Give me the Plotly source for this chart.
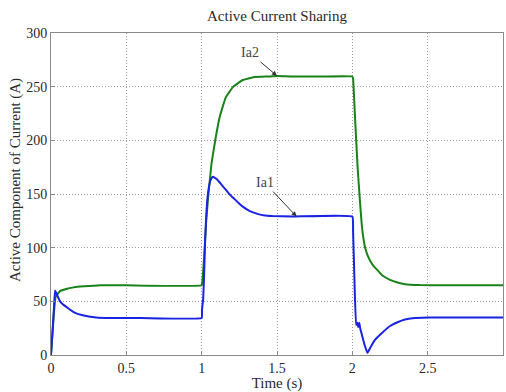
import plotly.graph_objects as go

# Ia2 (green) current, A
t_ia2 = [0, 0.01, 0.02, 0.03, 0.045, 0.06, 0.1, 0.15, 0.22, 0.33, 0.5, 1.0,
         1.005, 1.01, 1.02, 1.03, 1.045, 1.065, 1.09, 1.12, 1.16, 1.21, 1.27, 1.35, 1.45, 1.5,
         1.6, 1.8, 2.0, 2.005, 2.02, 2.035, 2.05, 2.065, 2.085, 2.11, 2.135, 2.16, 2.2, 2.25,
         2.3, 2.35, 2.45, 2.6, 3.0]
ia2 = [0, 20, 40, 54, 57, 59.5, 61.5, 63, 64, 65, 65, 65,
       70, 78, 100, 125, 150, 178, 200, 222, 240, 250, 256, 259, 259.5, 260,
       259.5, 259.5, 259.5, 257, 215, 175, 144, 118, 100, 90, 84, 80, 74, 70,
       67.5, 66, 65.2, 65, 65]

# Ia1 (blue) current, A
t_ia1 = [0, 0.01, 0.02, 0.027, 0.04, 0.06, 0.08, 0.105, 0.15, 0.21, 0.3, 0.4, 0.6, 1.0,
         1.002, 1.01, 1.017, 1.023, 1.03, 1.037, 1.05, 1.062, 1.075, 1.1, 1.13, 1.16, 1.19,
         1.22, 1.25, 1.28, 1.32, 1.37, 1.42, 1.47, 1.6, 2.0,
         2.005, 2.015, 2.025, 2.033, 2.04, 2.046, 2.052, 2.065, 2.08, 2.1, 2.12, 2.15, 2.2,
         2.25, 2.3, 2.35, 2.4, 2.5, 3.0]
ia1 = [0, 22, 45, 60, 56, 50, 47, 44.5, 40, 37, 35, 34.5, 34.5, 34.5,
       42, 52, 78, 107, 128, 144, 158, 164, 166, 164, 159, 154, 149,
       145, 141, 137.5, 134, 131.5, 130, 129.5, 129, 129,
       115, 65, 28, 30, 26, 30, 25, 18, 10, 2, 7, 14, 21,
       27, 30.5, 33, 34.3, 35, 35]

x_ticks = [0, 0.5, 1, 1.5, 2, 2.5, 3]
x_tick_labels = ["0", "0.5", "1", "1.5", "2", "2.5", "3"]
y_ticks = [0, 50, 100, 150, 200, 250, 300]

serif = "Liberation Serif, Times New Roman, serif"
txt = "#2a2a2a"

fig = go.Figure()
fig.add_trace(go.Scatter(x=t_ia2, y=ia2, mode="lines", name="Ia2",
                         line=dict(color="rgb(25,130,25)", width=2, shape="spline", smoothing=0.3)))
fig.add_trace(go.Scatter(x=t_ia1, y=ia1, mode="lines", name="Ia1",
                         line=dict(color="rgb(25,35,225)", width=2, shape="spline", smoothing=0.3)))

axis_common = dict(showline=True, linecolor="#8a8a8a", linewidth=1, mirror=True,
                   showgrid=True, gridcolor="#9a9a9a", griddash="1px,2px", gridwidth=1,
                   zeroline=False, ticks="inside", ticklen=4, tickcolor="#8a8a8a",
                   tickfont=dict(family=serif, size=14, color=txt))

fig.update_layout(
    width=506, height=392,
    margin=dict(l=51, r=3, t=33, b=37),
    paper_bgcolor="white", plot_bgcolor="white",
    showlegend=False,
    font=dict(family=serif, size=14, color=txt),
    title=dict(text="Active Current Sharing", x=0.5, xref="paper", xanchor="center",
               y=1 - 16 / 392, yanchor="middle", yref="container",
               font=dict(family=serif, size=15, color=txt)),
    xaxis=dict(range=[0, 3], tickvals=x_ticks, ticktext=x_tick_labels,
               title=dict(text="Time (s)", standoff=1,
                          font=dict(family=serif, size=15, color=txt)),
               **axis_common),
    yaxis=dict(range=[0, 300], tickvals=y_ticks, **axis_common),
)

fig.add_annotation(text="Active Component of Current (A)", xref="paper", yref="paper",
                   x=(15 - 51) / 452, y=(355 - 180) / 322, textangle=-90,
                   showarrow=False, xanchor="center", yanchor="middle",
                   font=dict(family=serif, size=15, color=txt))

fig.add_annotation(x=1.5, y=260, text="Ia2", showarrow=True, arrowhead=2,
                   arrowsize=1, arrowwidth=1, arrowcolor="#333",
                   ax=-27, ay=-23, font=dict(family=serif, size=14, color="#444"))
fig.add_annotation(x=1.63, y=129, text="Ia1", showarrow=True, arrowhead=2,
                   arrowsize=1, arrowwidth=1, arrowcolor="#333",
                   ax=-32, ay=-34, font=dict(family=serif, size=14, color="#444"))

fig.write_html("out.html")
